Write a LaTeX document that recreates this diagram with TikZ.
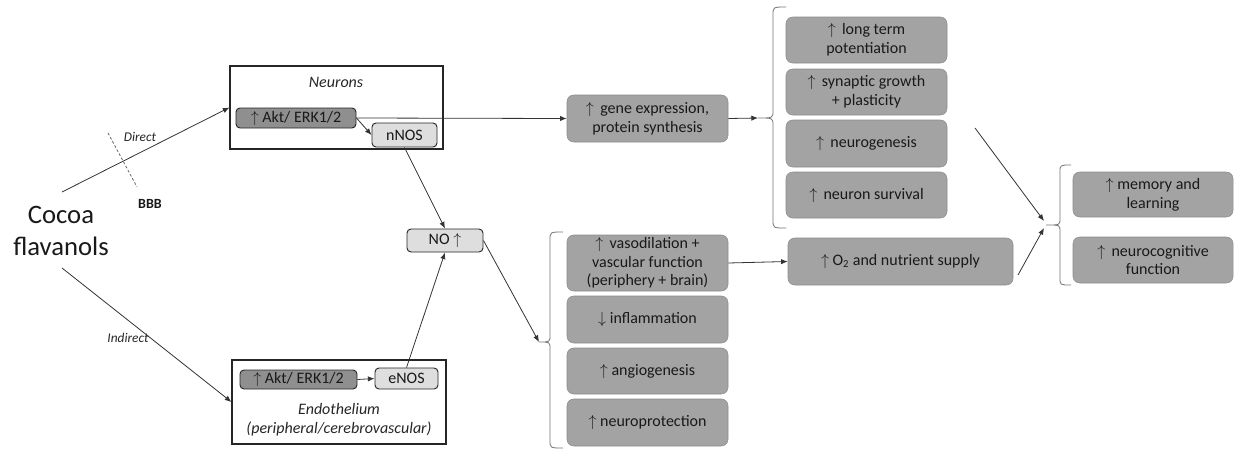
\documentclass[tikz,border=0pt]{standalone}
\usepackage{fontspec}
\setmainfont{Carlito}
\usetikzlibrary{arrows.meta,calc}
\newcommand{\bxfont}{\fontsize{12}{14}\selectfont}
\newcommand{\upa}{$\uparrow$}
\newcommand{\dna}{$\downarrow$}
\tikzset{
  x=0.75pt, y=-0.75pt,
  sz/.style 2 args={minimum width=#1*0.75pt, minimum height=#2*0.75pt},
  ln/.style={draw=black!80, line width=0.6pt},
  arr/.style={ln, -{Latex[length=5pt,width=4pt]}},
  eff/.style={draw=black!45, fill=black!36, rounded corners=5pt, align=center, font=\bxfont, text=black!90, inner sep=0pt},
  akt/.style={draw=black!85, fill=black!44, rounded corners=3pt, font=\bxfont, text=black!90, inner sep=0pt, line width=0.7pt},
  lite/.style={draw=black!85, fill=black!13, rounded corners=3pt, font=\bxfont, text=black!90, inner sep=0pt, line width=0.7pt},
  cell/.style={draw=black!85, line width=0.8pt},
  brace/.style={draw=black!55, line width=0.6pt},
  lab/.style={font=\fontsize{10}{12}\selectfont\itshape, text=black!85},
}
\begin{document}
\begin{tikzpicture}
\useasboundingbox (0,0) rectangle (1234,450);

% left
\node[font=\fontsize{20}{24}\selectfont, align=center, text=black!90] (cocoa) at (61,231) {Cocoa\\flavanols};
\coordinate (dstart) at (62,192);
\coordinate (istart) at (62,268);

% neurons cell
\node[cell, sz={213}{83}] (neurons) at (336.5,107.5) {};
\node[font=\bxfont\itshape, text=black!85] (neulab) at (336,82) {Neurons};
\node[akt, sz={120}{20}] (aktN) at (296,118) {\upa{} Akt/ ERK1/2};
\node[lite, sz={65}{24}] (nNOS) at (404.5,135) {nNOS};

% NO
\node[lite, sz={76}{23}] (NO) at (445,240.5) {NO \upa};

% endothelium cell
\node[cell, sz={214}{84}] (endo) at (339,402) {};
\node[akt, sz={117}{19}] (aktE) at (298.5,379.5) {\upa{} Akt/ ERK1/2};
\node[lite, sz={63}{21}] (eNOS) at (406.5,378.5) {eNOS};
\node[font=\bxfont\itshape, text=black!85, align=center] (endolab) at (339,420) {Endothelium\\(peripheral/cerebrovascular)};

% labels
\node[lab] (direct) at (140,137) {Direct};
\node[lab] (indirect) at (128,338) {Indirect};
\node[font=\fontsize{10.5}{12}\selectfont\bfseries, text=black!90] (bbb) at (150,204) {BBB};
\coordinate (bbbA) at (108,133);
\coordinate (bbbB) at (137,187);
\draw[ln, dashed, dash pattern=on 2pt off 1.5pt, draw=black!60] (bbbA) -- (bbbB);

% gene expression
\node[eff, sz={161}{47}] (gene) at (647.5,118.5) {\upa{}\, gene expression,\\protein synthesis};

% top group
\node[eff, sz={161}{46}] (ltp) at (866.5,40) {\upa{}\, long term\\potentiation};
\node[eff, sz={161}{46}] (syn) at (866.5,92) {\upa{}\, synaptic growth\\+ plasticity};
\node[eff, sz={161}{47}] (neurog) at (866.5,143.5) {\upa{}\, neurogenesis};
\node[eff, sz={161}{46}] (nsurv) at (866.5,195) {\upa{}\, neuron survival};

% bottom group
\node[eff, sz={161}{56}] (vaso) at (647.5,263) {\upa{}\, vasodilation +\\vascular function\\(periphery + brain)};
\node[eff, sz={161}{47}] (infl) at (647.5,319.5) {\dna{} inflammation};
\node[eff, sz={161}{46}] (angio) at (647.5,371) {\upa{} angiogenesis};
\node[eff, sz={161}{47}] (nprot) at (647.5,422.5) {\upa{} neuroprotection};

% O2
\node[eff, sz={225}{47}] (O2) at (900.5,261.5) {\upa{} O\textsubscript{2} and nutrient supply};

% outcomes
\node[eff, sz={160}{45}] (mem) at (1153,194.5) {\upa{} memory and\\learning};
\node[eff, sz={160}{46}] (ncog) at (1153,260) {\upa{}\, neurocognitive\\function};

% braces
\coordinate (tipTop) at (758,118);
\coordinate (tipBot) at (539,342);
\coordinate (tipR) at (1046,225);
\draw[brace] (786,7) .. controls (773,7) .. (773,15) -- (773,111) .. controls (773,118) .. (tipTop)
  .. controls (773,118) .. (773,125) -- (773,220) .. controls (773,228) .. (786,228);
\draw[brace] (563,232) .. controls (550,232) .. (550,240) -- (550,335) .. controls (550,342) .. (tipBot)
  .. controls (550,342) .. (550,349) -- (550,440) .. controls (550,448) .. (563,448);
\draw[brace] (1071,165) .. controls (1060,165) .. (1060,172) -- (1060,219) .. controls (1060,225) .. (tipR)
  .. controls (1060,225) .. (1060,231) -- (1060,278) .. controls (1060,285) .. (1071,285);

% connectors
\draw[arr] (dstart) -- (neurons.west);
\draw[arr] (istart) -- (endo.west);
\draw[arr] (aktN.east) -- (gene.west);
\draw[arr] (aktN.east) -- (nNOS.west);
\draw[arr] (aktE.east) -- (eNOS.west);
\draw[arr] (nNOS.south) -- (NO.north);
\draw[arr] (eNOS.north) -- (NO.south);
\draw[arr] (NO.east) -- (tipBot);
\draw[arr] (gene.east) -- (tipTop);
\draw[arr] (vaso.east) -- (O2.west);
\coordinate (fromTop) at (975,128);
\coordinate (fromO2) at (1018,275);
\draw[arr] (fromTop) -- ($(tipR)+(-2,-4)$);
\draw[arr] (fromO2) -- ($(tipR)+(-2,3)$);
\end{tikzpicture}
\end{document}
